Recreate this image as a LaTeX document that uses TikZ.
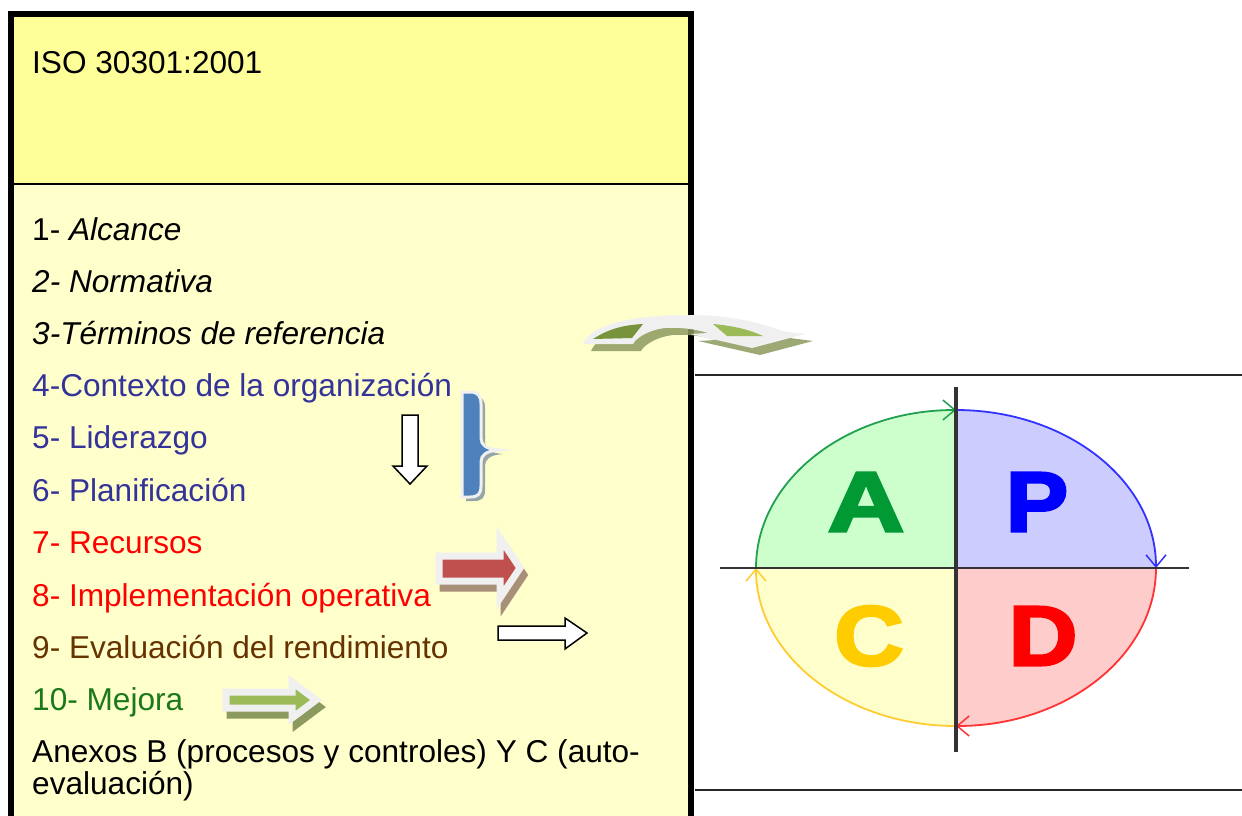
\documentclass[tikz,border=0pt]{standalone}
\usepackage{fontspec}
\setmainfont{Liberation Sans}
\newfontfamily\heavyfont[FakeBold=3]{Liberation Sans Bold}
\usetikzlibrary{arrows.meta}
\definecolor{yelTop}{HTML}{FFFF99}
\definecolor{yelBot}{HTML}{FFFFCC}
\definecolor{txtBlue}{HTML}{333399}
\definecolor{txtRed}{HTML}{FF0000}
\definecolor{txtBrown}{HTML}{663300}
\definecolor{txtGreen}{HTML}{1A7A1A}
\definecolor{shGray}{HTML}{F0F0F0}
\definecolor{olive}{HTML}{8C9A5E}
\definecolor{darkG}{HTML}{77933C}
\definecolor{lightG}{HTML}{9BBB59}
\definecolor{braceBlue}{HTML}{4F81BD}
\definecolor{arRed}{HTML}{C0504D}
\definecolor{shBrown}{HTML}{A89078}
\definecolor{shBlue}{HTML}{7F8FA0}
\definecolor{qA}{HTML}{CCFFCC}
\definecolor{qP}{HTML}{CCCCFF}
\definecolor{qC}{HTML}{FFFFCC}
\definecolor{qD}{HTML}{FFCCCC}
\definecolor{arcG}{HTML}{22A050}
\definecolor{arcB}{HTML}{3333FF}
\definecolor{arcR}{HTML}{FF3333}
\definecolor{arcY}{HTML}{FFCC33}
\definecolor{letA}{HTML}{009933}
\definecolor{letP}{HTML}{0000FF}
\definecolor{letC}{HTML}{FFCC00}
\definecolor{letD}{HTML}{FF0000}
\begin{document}
\begin{tikzpicture}[x=1pt,y=-1pt,
  item/.style={anchor=base west, inner sep=0pt, font=\fontsize{31.6}{36}\selectfont},
  big/.style={inner sep=0pt, font=\fontsize{85}{85}\heavyfont},
  blockarrow/.style={line width=7pt, draw=shGray, line join=miter},
  outlinearrow/.style={fill=white, draw=black, line width=1.5pt, line join=miter},
  pdcaarc/.style={line width=1.8pt, -{Straight Barb[length=12pt,width=20pt,line width=1.5pt]}},
  axisline/.style={draw=black!80}
]
\useasboundingbox (0,0) rectangle (1242,816);
\fill[white] (0,0) rectangle (1242,816);

% ---- left table box ----
\fill[yelTop] (11,14) rectangle (691,184);
\fill[yelBot] (11,184) rectangle (691,816);
\draw[line width=2.5pt] (11,184) -- (691,184);
\draw[line width=6.5pt, line join=miter] (11,816) -- (11,14) -- (691,14) -- (691,816);

% ---- right table lines ----
\draw[line width=2pt, black!85] (695,375) -- (1242,375);
\draw[line width=2pt, black!85] (695,790) -- (1242,790);

% ---- texts ----
\node[item] (t0) at (32,74) {ISO 30301:2001};
\node[item] (t1) at (32,240) {1- \textit{Alcance}};
\node[item] (t2) at (32,292) {\textit{2- Normativa}};
\node[item] (t3) at (32,344) {\textit{3-Términos de referencia}};
\node[item, text=txtBlue] (t4) at (32,396) {4-Contexto de la organización};
\node[item, text=txtBlue] (t5) at (32,448) {5- Liderazgo};
\node[item, text=txtBlue] (t6) at (32,501) {6- Planificación};
\node[item, text=txtRed] (t7) at (32,553) {7- Recursos};
\node[item, text=txtRed] (t8) at (32,606) {8- Implementación operativa};
\node[item, text=txtBrown] (t9) at (32,658) {9- Evaluación del rendimiento};
\node[item, text=txtGreen] (t10) at (32,710) {10- Mejora};
\node[item] (t11) at (32,762) {Anexos B (procesos y controles) Y C (auto-};
\node[item] (t12) at (32,794) {evaluación)};

% ---- down arrow ----
\draw[outlinearrow] (402,415) -- (418,415) -- (418,466) -- (427,466) -- (410,484) -- (393,466) -- (402,466) -- cycle;

% ---- brace ----
\fill[shBlue, opacity=0.8, shift={(4,4)}] (462,392) -- (470,392) .. controls (478,392) and (481,396) .. (481,404) -- (481,438) .. controls (481,445) and (486,449) .. (499,450) .. controls (486,451) and (481,455) .. (481,462) -- (481,486) .. controls (481,494) and (478,497) .. (470,497) -- (462,497) -- cycle;
\draw[fill=braceBlue, draw=shGray, line width=3pt] (462,392) -- (470,392) .. controls (478,392) and (481,396) .. (481,404) -- (481,438) .. controls (481,445) and (486,449) .. (499,450) .. controls (486,451) and (481,455) .. (481,462) -- (481,486) .. controls (481,494) and (478,497) .. (470,497) -- (462,497) -- cycle;

% ---- red block arrow ----
\filldraw[shBrown, line width=7pt, line join=miter, shift={(4,7)}] (439,556) -- (500,556) -- (500,538) -- (520,568) -- (500,598) -- (500,581) -- (439,581) -- cycle;
\filldraw[blockarrow, fill=arRed] (439,556) -- (500,556) -- (500,538) -- (520,568) -- (500,598) -- (500,581) -- (439,581) -- cycle;

% ---- white arrow ----
\draw[outlinearrow] (498,626) -- (565,626) -- (565,618) -- (587,633) -- (565,649) -- (565,640) -- (498,640) -- cycle;

% ---- green block arrow ----
\filldraw[olive, line width=7pt, line join=miter, shift={(4,7)}] (226,692) -- (292,692) -- (292,682) -- (316,700) -- (292,718) -- (292,708) -- (226,708) -- cycle;
\filldraw[blockarrow, fill=lightG] (226,692) -- (292,692) -- (292,682) -- (316,700) -- (292,718) -- (292,708) -- (226,708) -- cycle;

% ---- curved arrow ----
\fill[olive, opacity=0.85, shift={(8,7)}] (583,344) .. controls (592,322) and (640,315) .. (690,315) .. controls (730,315) and (762,323) .. (782,331) -- (805,334) -- (752,348) -- (690,334) -- (708,333) .. controls (695,329) and (680,327) .. (665,328) .. controls (648,330) and (636,338) .. (633,344) -- cycle;
\fill[shGray] (583,344) .. controls (592,322) and (640,315) .. (690,315) .. controls (730,315) and (762,323) .. (782,331) -- (805,334) -- (752,348) -- (690,334) -- (708,333) .. controls (695,329) and (680,327) .. (665,328) .. controls (648,330) and (636,338) .. (633,344) -- cycle;
\fill[darkG] (593,339) .. controls (610,328) and (625,325) .. (643,324) -- (632,338) -- cycle;
\fill[lightG] (713,324) .. controls (735,326) and (750,330) .. (763,336) -- (727,336) -- cycle;

% ---- PDCA ----
\fill[qA] (956,568) -- (756,568) arc[start angle=180, end angle=270, x radius=200, y radius=158] -- cycle;
\fill[qP] (956,568) -- (956,410) arc[start angle=270, end angle=360, x radius=200, y radius=158] -- cycle;
\fill[qD] (956,568) -- (1156,568) arc[start angle=0, end angle=90, x radius=200, y radius=158] -- cycle;
\fill[qC] (956,568) -- (956,726) arc[start angle=90, end angle=180, x radius=200, y radius=158] -- cycle;
\draw[pdcaarc, arcG] (756,568) arc[start angle=180, end angle=270, x radius=200, y radius=158];
\draw[pdcaarc, arcB] (956,410) arc[start angle=270, end angle=360, x radius=200, y radius=158];
\draw[pdcaarc, arcR] (1156,568) arc[start angle=0, end angle=90, x radius=200, y radius=158];
\draw[pdcaarc, arcY] (956,726) arc[start angle=90, end angle=180, x radius=200, y radius=158];
\draw[axisline, line width=2.2pt] (720,568) -- (1189,568);
\draw[axisline, line width=3.2pt] (956,387) -- (956,752);
\node[big, text=letA] (A) at (866,502) {\scalebox{1.25}[1]{A}};
\node[big, text=letP] (P) at (1037,502) {\scalebox{1.1}[1]{P}};
\node[big, text=letC] (C) at (869,636) {\scalebox{1.13}[1]{C}};
\node[big, text=letD] (D) at (1043,636) {\scalebox{1.12}[1]{D}};
\end{tikzpicture}
\end{document}
